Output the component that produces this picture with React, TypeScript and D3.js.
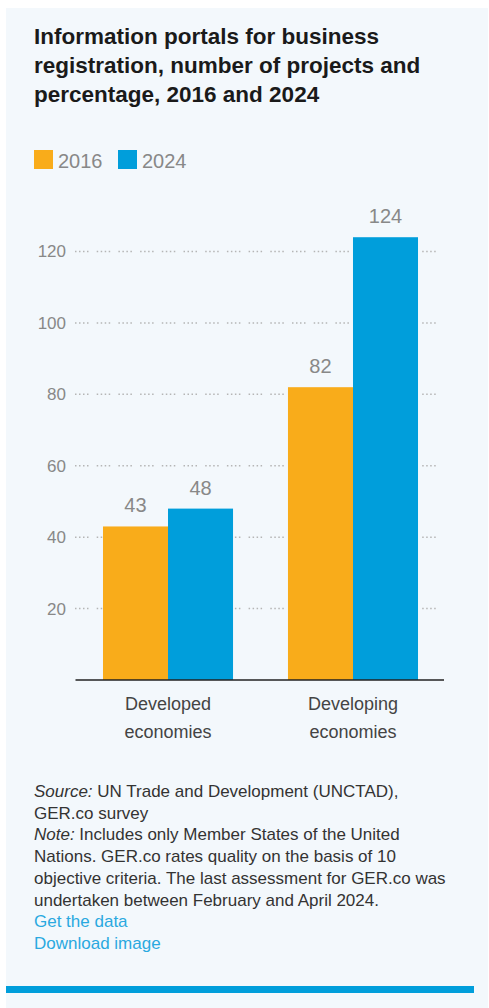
import React from "react";
import * as d3 from "d3";

// chart values
const categories = ["Developed economies", "Developing economies"];
const categoryLines = [
  ["Developed", "economies"],
  ["Developing", "economies"],
];
const years = ["2016", "2024"];
const values2016 = [43, 82];
const values2024 = [48, 124];
const yTicks = [20, 40, 60, 80, 100, 120];

const titleLines = [
  "Information portals for business",
  "registration, number of projects and",
  "percentage, 2016 and 2024",
];

const colors: Record<string, string> = { "2016": "#f9ac1a", "2024": "#009edb" };

const W = 489,
  H = 1008;
const FONT = "'Liberation Sans', Arial, Helvetica, sans-serif";

const App: React.FC = () => {
  const rows = categories.map((c, i) => ({
    cat: c,
    lines: categoryLines[i],
    vals: [
      { year: "2016", v: values2016[i] },
      { year: "2024", v: values2024[i] },
    ],
  }));

  const x = d3
    .scaleBand<string>()
    .domain(categories)
    .range([75.5, 445.5])
    .paddingInner(0.297)
    .paddingOuter(0.1486);

  const xs = d3.scaleBand<string>().domain(years).range([0, x.bandwidth()]);

  const y = d3.scaleLinear().domain([0, 120]).range([680, 251.5]);

  const footer: { parts: { t: string; i?: boolean }[]; link?: boolean }[] = [
    { parts: [{ t: "Source:", i: true }, { t: " UN Trade and Development (UNCTAD)," }] },
    { parts: [{ t: "GER.co survey" }] },
    { parts: [{ t: "Note:", i: true }, { t: " Includes only Member States of the United" }] },
    { parts: [{ t: "Nations. GER.co rates quality on the basis of 10" }] },
    { parts: [{ t: "objective criteria. The last assessment for GER.co was" }] },
    { parts: [{ t: "undertaken between February and April 2024." }] },
    { parts: [{ t: "Get the data" }], link: true },
    { parts: [{ t: "Download image" }], link: true },
  ];

  return (
    <svg
      width={W}
      height={H}
      style={{ position: "absolute", left: 0, top: 0, display: "block" }}
      fontFamily={FONT}
    >
      <rect x={0} y={0} width={W} height={H} fill="#ffffff" />
      <rect x={6} y={8} width={482} height={1000} fill="#f3f8fc" />

      {titleLines.map((t, i) => (
        <text key={t} x={34} y={44 + i * 29} fontSize={22.5} fontWeight="bold" fill="#1a1a1a">
          {t}
        </text>
      ))}

      {years.map((yr, i) => (
        <g key={yr} transform={`translate(${34 + i * 84},150)`}>
          <rect width={19} height={19} fill={colors[yr]} />
          <text x={24} y={18} fontSize={20} fill="#888">
            {yr}
          </text>
        </g>
      ))}

      {/* gridlines */}
      {yTicks.map((t) => (
        <g key={t}>
          <line
            x1={75}
            x2={442}
            y1={y(t)}
            y2={y(t)}
            stroke="#b5b5b5"
            strokeWidth={1.5}
            strokeDasharray="1.5 2.5 1.5 2.5 1.5 2.5 1.5 8.2"
          />
          <text x={66} y={y(t)} dy="0.35em" textAnchor="end" fontSize={17} fill="#888">
            {t}
          </text>
        </g>
      ))}

      {rows.map((r) => (
        <g key={r.cat} transform={`translate(${x(r.cat)},0)`}>
          {r.vals.map((d) => (
            <g key={d.year}>
              <rect
                x={xs(d.year)}
                y={y(d.v)}
                width={xs.bandwidth()}
                height={y(0) - y(d.v)}
                fill={colors[d.year]}
              />
              <text
                x={(xs(d.year) || 0) + xs.bandwidth() / 2}
                y={y(d.v) - 14}
                textAnchor="middle"
                fontSize={20}
                fill="#888"
              >
                {d.v}
              </text>
            </g>
          ))}
          {r.lines.map((l, i) => (
            <text
              key={l}
              x={x.bandwidth() / 2}
              y={710 + i * 28}
              textAnchor="middle"
              fontSize={18}
              fill="#444"
            >
              {l}
            </text>
          ))}
        </g>
      ))}

      <line x1={75.5} x2={444} y1={y(0)} y2={y(0)} stroke="#222" strokeWidth={1.5} />

      {footer.map((f, i) => (
        <text
          key={i}
          x={34}
          y={797 + i * 21.7}
          fontSize={17}
          fill={f.link ? "#2aa9e0" : "#333"}
        >
          {f.parts.map((p, j) => (
            <tspan key={j} fontStyle={p.i ? "italic" : "normal"}>
              {p.t}
            </tspan>
          ))}
        </text>
      ))}

      <rect x={6} y={986} width={468} height={7} fill="#009edb" />
    </svg>
  );
};

export default App;
